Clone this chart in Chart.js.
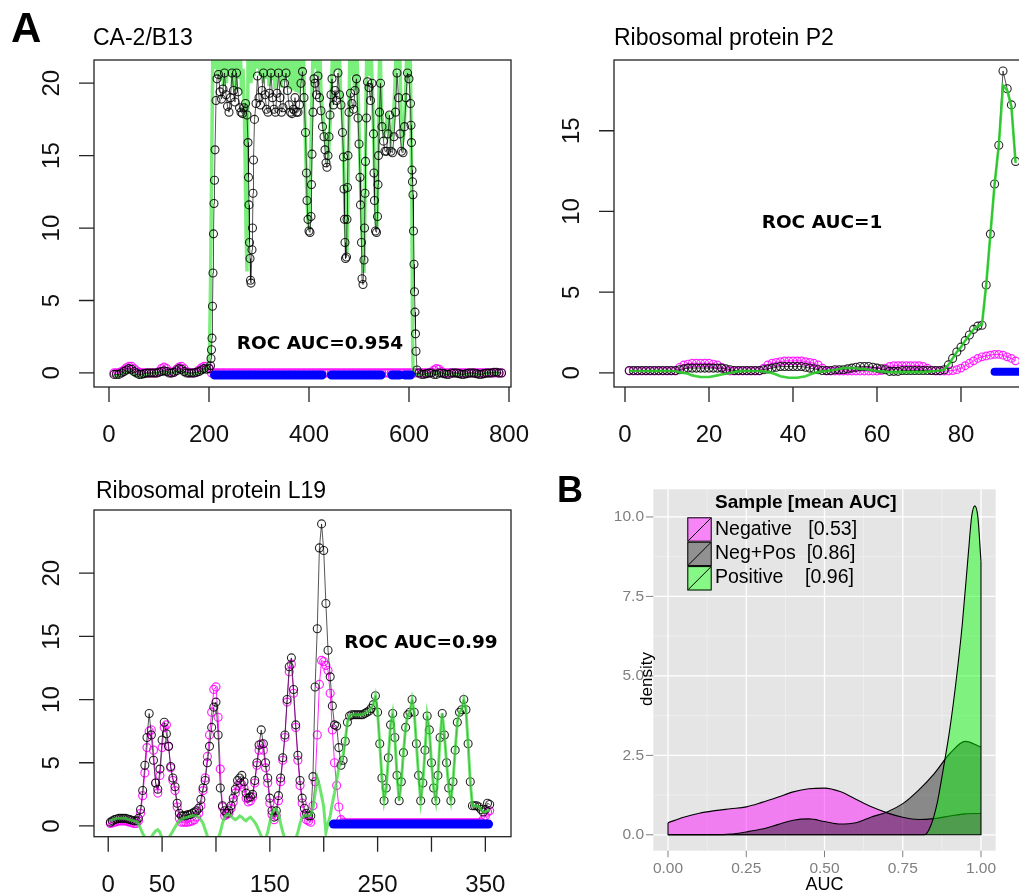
<!DOCTYPE html>
<html>
<head>
<meta charset="utf-8">
<title>ROC AUC profiles</title>
<script src="https://cdn.jsdelivr.net/npm/chart.js@4.4.1/dist/chart.umd.min.js"></script>
<style>
  html, body { margin: 0; padding: 0; background: #fff; }
  #fig { position: relative; width: 1019px; height: 893px; overflow: hidden; }
  #fig canvas { position: absolute; }
  .txt { position: absolute; white-space: pre; line-height: 1; color: #000; font-family: "Liberation Sans", Arial, sans-serif; }
  .letter { font-weight: bold; }
  .title { font-size: 23px; }
  .roc { font-family: "DejaVu Sans", sans-serif; font-weight: bold; font-size: 18.5px; width: 300px; text-align: center; }
</style>
</head>
<body>
<div id="fig">
  <canvas id="ca2" width="540" height="460" style="left:0px;top:0px"></canvas>
  <canvas id="p2" width="530" height="460" style="left:520px;top:0px"></canvas>
  <canvas id="l19" width="520" height="453" style="left:0px;top:440px"></canvas>
  <canvas id="auc" width="479" height="433" style="left:540px;top:460px"></canvas>

  <div class="txt letter" style="left:11px;top:7px;font-size:42px">A</div>
  <div class="txt letter" style="left:557px;top:472px;font-size:36px">B</div>
  <div class="txt title" style="left:93px;top:25.5px">CA-2/B13</div>
  <div class="txt title" style="left:614px;top:25.5px">Ribosomal protein P2</div>
  <div class="txt title" style="left:96px;top:478.5px">Ribosomal protein L19</div>
  <div class="txt roc" style="left:170px;top:334px">ROC AUC=0.954</div>
  <div class="txt roc" style="left:672px;top:213px">ROC AUC=1</div>
  <div class="txt roc" style="left:271px;top:633px">ROC AUC=0.99</div>
</div>

<script>
// ---------- CA-2/B13 ----------
const ca2Ticks = [0, 200, 400, 600, 800];
const ca2YTicks = [0, 5, 10, 15, 20];

// Neg+Pos profile (black circles), [position, value]
const ca2NegPos = [
  [10,-0.1],[15,-0.1],[20,-0.1],[25,0],[30,0.1],[35,0.2],[40,0.3],[45,0.25],[50,0.1],[55,0],
  [60,-0.1],[65,-0.1],[70,-0.05],[75,0],[80,0],[85,0],[90,0],[95,0],[100,0.05],[105,0.1],
  [110,0.15],[115,0.1],[120,0],[125,0],[130,0.05],[135,0.15],[140,0.3],[145,0.25],[150,0.1],[155,0],
  [160,0],[165,0],[170,0],[175,0.05],[180,0.1],[185,0.2],[190,0.3],[195,0.25],[200,0.3],
  [203,0.5],[204,1.0],[205,1.6],[206,2.4],[207,4.6],[208,6.9],[209,9.6],[210,11.7],[211,13.3],[212,15.4],[214,18.8],[216,20.3],
  [219,20.6],[222,19.4],[225,18.9],[228,19.6],[231,20.7],[234,19.2],[237,18.4],[240,18.0],[243,19.0],[246,20.7],
  [249,19.5],[252,18.7],[255,20.7],[258,19.4],[261,18.3],[264,18.0],[267,17.9],[270,18.3],[273,18.6],[276,17.8],
  [278,15.9],[279,13.5],[280,11.6],[281,9.0],[282,7.9],[283,6.4],[284,6.2],[286,8.5],[287,10.0],[288,12.4],[289,14.7],[291,17.5],[294,18.6],
  [297,20.5],[300,19.0],[303,18.5],[306,19.5],[309,20.7],[312,19.2],[315,18.2],[318,18.0],[321,19.3],[324,20.7],
  [327,19.0],[330,18.2],[333,18.0],[336,19.3],[339,20.7],[342,19.0],[345,18.0],[348,18.3],[351,20.0],[354,20.7],
  [357,19.5],[360,18.5],[363,18.0],[366,17.9],[369,18.2],[372,19.0],[375,18.0],[378,18.0],[381,18.5],[384,20.0],[387,20.8],[390,19.0],
  [393,16.6],[395,13.8],[396,11.9],[398,10.6],[400,9.8],[402,9.7],[404,10.8],[405,13.0],[406,15.1],[408,18.0],[410,20.3],[412,20.0],
  [415,19.2],[418,20.5],[421,19.0],[424,18.1],
  [427,17.0],[430,16.3],[432,15.4],[434,14.5],[436,14.2],[438,15.0],[440,16.3],[442,17.8],[444,19.2],[446,20.3],
  [449,18.5],[452,19.5],[455,18.8],[458,20.7],[461,19.2],[464,18.5],
  [467,16.6],[469,14.9],[470,12.7],[471,10.6],[472,9.0],[473,7.9],[475,8.0],[476,10.6],[477,12.8],[478,15.0],[480,18.0],[483,19.3],[486,18.6],[489,18.2],[492,19.5],[495,20.3],
  [498,17.6],[500,15.8],[502,13.5],[503,11.6],[505,9.0],[506,6.5],[508,6.1],[510,7.8],[511,10.0],[512,12.4],[513,14.6],[515,17.6],[517,20.1],[520,19.7],[523,18.8],[526,20.0],
  [529,16.5],[530,13.8],[531,11.9],[533,9.8],[535,9.7],[537,10.8],[538,13.0],[539,15.0],[541,18.0],[543,20.0],
  [546,17.0],[549,16.0],[552,15.3],[555,15.3],[558,16.5],[561,17.8],[564,15.3],[567,15.2],[570,16.3],[573,18.0],
  [576,20.7],[579,19.0],[582,16.5],[585,15.3],[588,15.2],[591,17.0],[594,19.0],[597,20.7],[600,20.3],
  [603,18.6],[604,17.1],[605,15.9],[606,14.0],[607,13.2],[608,12.3],[609,9.8],[610,7.5],[611,5.6],[612,4.2],[613,2.7],[614,1.5],[616,0.2],
  [620,0],[625,-0.1],[630,-0.1],[635,-0.05],[640,0],[645,0],[650,-0.1],[655,-0.1],[660,0],[665,0],
  [670,-0.05],[675,-0.1],[680,-0.1],[685,0],[690,0],[695,0],[700,-0.05],[705,-0.1],[710,-0.1],[715,-0.05],
  [720,0],[725,0],[730,0],[735,-0.05],[740,-0.1],[745,-0.1],[750,-0.05],[755,0],[760,0],[765,0],
  [770,0.05],[775,0.05],[780,0],[785,0]
];

// Positive profile (green line)
const ca2Pos = [
  [10,-0.2],[20,-0.2],[30,0],[40,0.1],[50,-0.1],[60,-0.3],[70,-0.15],[80,-0.1],[90,0],[100,0],
  [110,0.05],[120,0],[130,0.05],[140,0.1],[150,0],[160,-0.1],[170,-0.1],[180,0],[190,0.1],[198,0.4],
  [201,1.5],[203,6],[205,13],[207,20],[208,23],
  [211,21],[214,23],[217,20.5],[220,23],[223,20.2],[226,23],[229,19.8],[232,23],[235,20],[238,23],
  [241,20.5],[244,23],[247,19.8],[250,23],[253,19.5],[256,23],[259,20.3],[262,23],[265,19.5],[268,21],
  [271,17.5],[274,10],[276,7],[278,22],[281,23],
  [284,20],[287,23],[290,20.5],[293,23],[296,21],[299,23],[302,20.5],[305,23],[308,20],[311,23],
  [314,20.3],[317,23],[320,19.8],[323,23],[326,20.2],[329,23],[332,19.6],[335,23],[338,20.5],[341,23],
  [344,19.7],[347,23],[350,20.1],[353,23],[356,20.4],[359,23],[362,19.6],[365,22],[368,19.5],[371,22.5],
  [374,19.4],[377,22],[380,19.3],[383,22],[386,20.6],[389,22],[392,17],[395,13],[398,10.5],[400,9.9],
  [403,14],[406,19.5],[409,23],
  [412,21],[415,23],[418,20.5],[421,23],[424,19.5],[427,18],[431,16.5],[435,15.5],[439,15],[442,17],
  [445,20],[448,23],[451,20.8],[454,23],[457,21],[460,23],[463,19.5],[466,19],[469,15],[473,10],
  [476,8.3],[478,12],[480,18],[482,23],[485,20.5],[488,23],[491,19.5],[494,23],[497,21],[500,17],
  [503,13],[507,9],[510,6.9],[512,12],[514,19],[516,23],[519,20.5],[522,23],[525,21.5],[528,18],
  [531,14],[534,10.5],[536,10],[538,14],[540,20],[542,23],[545,18],[548,17],[551,16.5],[554,16.8],
  [557,18],[560,17],[563,16],[566,16.5],[569,17.5],[572,20],[575,23],[578,21],[581,23],[584,18],
  [587,16],[590,16.5],[593,19],[596,23],[599,20.5],[602,23],[604,18],[606,10],[607,3],[608,0.2],[612,-0.1],
  [620,-0.1],[640,-0.1],[660,0],[680,-0.1],[700,-0.1],[720,-0.1],[740,-0.1],[760,0],[780,0]
];

// Negative profile (magenta circles), positions 10, 15, ... 785
const ca2NegStart = 10, ca2NegStep = 5;
const ca2Neg = [
  0,0,0,0.1,0.2,0.35,0.45,0.45,0.3,0.15,
  0.05,0,0,0,0,0,0,0,0.1,0.3,
  0.4,0.3,0.1,0,0.05,0.25,0.4,0.45,0.3,0.1,
  0,0,0,0.05,0.2,0.35,0.45,0.45,0.35,
  0,0,0,0,0,0,0,0,0,0,
  0,0,0,0,0,0,0,0,0,0,
  0,0,0,0,0,0,0,0,0,0,
  0,0,0,0,0,0,0,0,0,0,
  0,0,0,0,0,0,0,0,0,0,
  0,0,0,0,0,0,0,0,0,0,
  0,0,0,0,0,0,0,0,0,0,
  0,0,0,0,0,0,0,0,0,0,
  0,0,0,
  0,0,0,0,0,0.05,0.2,0.3,0.25,0.1,
  0,0,0,0,0,0,0,0,0,0,
  0,0,0,0,0,0,0,0,0,0,
  0,0,0,0
];
const ca2Blue = [[211,426],[445,544],[566,581],[592,603]];

// ---------- Ribosomal protein P2 (positions 1..93) ----------
const p2Ticks = [0, 20, 40, 60, 80];
const p2YTicks = [0, 5, 10, 15];
const p2NegPos = [
  0.15,0.15,0.15,0.15,0.15,0.15,0.15,0.15,0.15,0.15,0.15,0.15,
  0.2,0.25,0.3,0.3,0.3,0.3,0.3,0.3,0.3,0.3,0.3,0.25,0.2,0.15,
  0.15,0.15,0.15,0.15,0.15,0.15,0.2,0.25,0.3,
  0.35,0.4,0.4,0.4,0.4,0.4,0.4,0.35,0.3,0.25,
  0.2,0.15,0.15,0.15,0.2,0.2,0.2,0.25,0.3,0.35,
  0.4,0.4,0.4,0.35,0.3,0.25,0.2,
  0.1,0.1,0.1,0.15,0.15,0.15,0.15,0.15,0.15,0.15,0.15,0.15,0.15,
  0.2,0.5,0.9,1.3,1.6,2.0,2.35,2.7,2.9,2.95,5.45,8.6,11.7,14.1,18.7,17.6,16.6,13.1
];
const p2Pos = [
  0.12,0.12,0.12,0.12,0.12,0.12,0.12,0.12,0.12,0.12,0.12,0.12,
  0.05,0,-0.05,-0.15,-0.2,-0.25,-0.25,-0.25,-0.2,-0.15,-0.1,-0.05,0,0.05,
  0.1,0.12,0.12,0.12,0.12,0.12,0.1,0.05,0,
  -0.1,-0.2,-0.25,-0.3,-0.3,-0.3,-0.25,-0.2,-0.1,0,
  0.05,0.1,0.12,0.15,0.2,0.25,0.3,0.3,0.3,0.3,
  0.25,0.25,0.2,0.15,0.12,0.1,0.08,
  0.05,0.05,0.05,0.05,0.05,0.05,0.05,0.05,0.05,0.08,0.1,0.12,0.15,
  0.2,0.5,0.9,1.3,1.6,2.0,2.35,2.7,2.9,3.0,5.45,8.6,11.7,14.1,17.8,17.5,16.5,13.0
];
const p2Neg = [
  0.12,0.12,0.12,0.12,0.12,0.12,0.12,0.12,0.12,0.12,0.12,0.12,
  0.35,0.5,0.55,0.6,0.6,0.6,0.6,0.6,0.55,0.5,0.35,0.15,0.12,0.12,
  0.12,0.12,0.12,0.12,0.12,0.12,0.3,0.5,0.6,
  0.65,0.7,0.75,0.75,0.75,0.75,0.75,0.7,0.65,0.6,
  0.5,0.3,0.12,0.12,0.12,0.12,0.12,0.12,0.12,0.12,
  0.12,0.12,0.12,0.12,0.12,0.15,0.3,
  0.4,0.45,0.45,0.45,0.45,0.45,0.45,0.45,0.4,0.3,0.15,0.12,0.12,
  0.12,0.12,0.15,0.2,0.3,0.45,0.6,0.75,0.9,1.0,1.05,1.1,1.15,1.15,1.1,1.0,0.9,0.75
];
const p2Blue = [[88, 99]];

// ---------- Ribosomal protein L19 (positions 2, 4, ... 354) ----------
const l19Ticks = [0, 50, 100, 150, 200, 250, 300, 350];
const l19Labels = [0, 50, 150, 250, 350];
const l19YTicks = [0, 5, 10, 15, 20];
const l19Start = 2, l19Step = 2;
const l19NegPos = [
  0.3,0.4,0.5,0.55,0.6,0.6,0.6,0.6,0.55,0.5,
  0.45,0.4,0.4,0.6,1.3,2.8,4.8,7.0,8.9,7.2,
  5.2,3.4,2.9,4.5,6.8,8.2,7.3,6.3,4.7,3.8,
  3.1,1.8,1.0,0.8,0.8,0.8,0.9,0.9,1.0,1.1,
  1.2,1.4,2.1,3.0,3.6,5.0,6.3,7.8,9.4,9.8,
  7.2,3.0,1.6,1.2,1.0,1.2,1.6,2.2,2.9,3.6,
  3.8,4.0,3.5,2.6,2.2,2.3,2.5,3.6,5.0,6.4,
  7.6,6.5,5.0,3.8,2.2,1.2,0.7,1.2,2.4,3.8,
  5.4,7.2,10.0,12.6,13.3,10.8,8.0,5.6,3.6,2.2,
  1.4,1.0,0.8,0.8,3.9,11.0,15.6,22.0,23.9,21.8,
  17.6,13.9,11.8,9.5,8.0,7.9,6.2,4.8,5.2,6.7,
  8.2,8.7,8.8,8.8,8.8,8.8,8.8,8.8,8.9,9.0,
  9.1,9.3,9.6,10.3,9.0,6.5,3.8,2.0,3.0,5.4,
  8.0,8.9,7.0,4.0,2.0,3.5,5.8,7.8,8.8,9.0,
  10.0,9.0,6.5,4.0,2.0,3.4,6.0,8.7,7.6,5.0,
  3.0,2.0,4.0,7.0,8.9,7.2,5.0,3.0,2.0,3.5,
  6.0,8.2,9.0,9.2,10.0,9.2,6.5,3.5,1.6,1.6,
  1.6,1.5,1.3,1.1,1.3,1.8,1.7
];
const l19Neg = [
  0.2,0.25,0.3,0.35,0.4,0.4,0.4,0.4,0.35,0.3,
  0.25,0.2,0.2,0.4,1.0,2.4,4.2,6.2,7.5,7.6,
  6.0,3.4,2.6,4.0,6.2,7.8,8.0,6.3,4.6,3.6,
  2.8,1.5,0.6,0.3,0.3,0.3,0.3,0.35,0.4,0.5,
  0.7,1.0,1.6,2.8,3.8,5.5,7.2,9.0,10.8,11.0,
  8.6,4.5,1.5,0.8,0.9,1.0,1.4,1.9,2.6,3.2,
  3.4,3.3,3.0,2.2,1.9,2.0,2.3,3.4,4.8,6.0,
  6.5,6.0,4.6,3.4,1.8,0.9,0.5,0.8,2.0,3.5,
  5.2,7.0,9.8,12.2,12.8,10.5,7.8,5.2,3.2,1.8,
  0.9,0.5,0.4,0.3,1.6,3.5,7.2,11.2,13.1,13.0,
  12.7,12.3,10.5,7.6,5.0,3.2,1.5,0.5,0.3,0.25,
  0.25,0.25,0.25,0.25,0.25,0.25,0.25,0.25,0.25,0.25,
  0.25,0.25,0.25,0.25,0.25,0.25,0.25,0.25,0.25,0.25,
  0.25,0.25,0.25,0.25,0.25,0.25,0.25,0.25,0.25,0.25,
  0.25,0.25,0.25,0.25,0.25,0.25,0.25,0.25,0.25,0.25,
  0.25,0.25,0.25,0.25,0.25,0.25,0.25,0.25,0.25,0.25,
  0.25,0.25,0.25,0.25,0.25,0.25,0.25,0.25,0.25,0.25,
  0.25,0.25,0.3,0.5,0.8,1.1,1.2
];
const l19Pos = [
  0.4,0.5,0.55,0.6,0.6,0.6,0.6,0.6,0.55,0.5,
  0.45,0.4,0.35,0.2,-0.2,-0.6,-0.9,-1.1,-1.1,-0.9,
  -0.6,-0.4,-0.3,-0.5,-1.0,-1.2,-1.2,-1.0,-0.7,-0.4,
  -0.1,0.2,0.4,0.5,0.6,0.65,0.7,0.75,0.8,0.8,
  0.8,0.7,0.5,0.2,-0.3,-0.8,-1.2,-1.2,-1.2,-1.2,
  -1.0,-0.5,0.2,0.7,0.9,0.9,0.8,0.6,0.5,0.6,
  0.8,0.7,0.5,0.4,0.6,0.7,0.5,0.3,0.0,-0.4,
  -0.8,-1.1,-1.0,-0.5,0.3,1.0,1.3,1.3,1.0,0.2,
  -0.5,-1.0,-1.2,-1.2,-1.2,-1.2,-1.0,-0.5,0.2,0.7,
  0.8,0.8,0.8,0.9,1.4,2.6,3.8,3.2,2.4,1.5,
  -0.5,0.2,0.8,1.8,2.6,3.6,4.6,5.2,5.6,6.8,
  8.2,8.7,8.8,8.8,8.8,8.8,8.8,8.8,8.9,9.0,
  9.1,9.3,9.6,10.3,9.0,6.5,3.8,2.0,3.0,5.4,
  8.0,8.9,7.0,4.0,2.0,3.5,5.8,7.8,8.8,9.0,
  10.0,9.0,6.5,4.0,2.0,3.4,6.0,8.7,7.6,5.0,
  3.0,2.0,4.0,7.0,8.9,7.2,5.0,3.0,2.0,3.5,
  6.0,8.2,9.0,9.2,10.0,9.2,6.5,3.5,1.6,1.6,
  1.6,1.5,1.3,1.1,1.1,1.2,1.3
];
const l19Blue = [[209, 353]];

// ---------- B: AUC density ----------
const aucGrid = [0,0.05,0.1,0.15,0.2,0.25,0.3,0.35,0.4,0.45,0.5,0.55,0.6,0.65,0.7,0.75,0.8,0.85,0.9,0.95,1.0];
const negativeDens = [0.38,0.55,0.68,0.76,0.82,0.88,1.02,1.18,1.35,1.45,1.47,1.36,1.12,0.88,0.69,0.55,0.48,0.51,0.59,0.66,0.67];
const negPosDens = [0,0,0,0,0.02,0.09,0.18,0.32,0.46,0.5,0.42,0.34,0.38,0.56,0.72,0.98,1.4,1.92,2.55,2.94,2.76];
const positiveGrid = [0,0.8,0.82,0.84,0.86,0.88,0.9,0.92,0.94,0.96,0.97,0.98,0.99,1.0];
const positiveDens = [0,0,0,0.3,1.0,2.1,3.3,4.8,6.6,8.9,10.0,10.35,10.0,8.6];
const aucMajor = [0, 0.25, 0.5, 0.75, 1];
const aucMinor = [0.125, 0.375, 0.625, 0.875];
const aucLabels = ['0.00', '0.25', '0.50', '0.75', '1.00'];
const densMajor = [0, 2.5, 5, 7.5, 10];
const densMinor = [1.25, 3.75, 6.25, 8.75];
const densLabels = ['0.0', '2.5', '5.0', '7.5', '10.0'];
const sampleNames = ['Negative', 'Neg+Pos', 'Positive'];
const sampleMeans = ['[0.53]', '[0.86]', '[0.96]'];
const sampleFills = ['rgba(255,0,255,0.45)', 'rgba(0,0,0,0.4)', 'rgba(0,255,0,0.45)'];

// ---------- helpers ----------
const seq = (start, step, vals) => vals.map((v, i) => ({x: start + step * i, y: v}));
const pairs = pts => pts.map(p => ({x: p[0], y: p[1]}));
const ranges = (rs, yv) => {
  const out = [];
  rs.forEach(r => { out.push({x: r[0], y: yv}, {x: r[1], y: yv}, {x: r[1], y: null}); });
  return out;
};

// R base-graphics style box and axes
const rAxes = {
  id: 'rAxes',
  afterDraw(chart, args, o) {
    const {ctx, chartArea: a, scales: {x, y}} = chart;
    ctx.save();
    ctx.strokeStyle = '#222';
    ctx.lineWidth = 1.3;
    ctx.strokeRect(a.left, a.top, a.right - a.left, a.bottom - a.top);
    ctx.beginPath();
    o.xTicks.forEach(v => {
      const px = x.getPixelForValue(v);
      ctx.moveTo(px, a.bottom);
      ctx.lineTo(px, a.bottom + 15);
    });
    o.yTicks.forEach(v => {
      const py = y.getPixelForValue(v);
      ctx.moveTo(a.left, py);
      ctx.lineTo(a.left - 15, py);
    });
    ctx.stroke();
    ctx.fillStyle = '#111';
    ctx.font = '24px "Liberation Sans", Arial, sans-serif';
    ctx.textAlign = 'center';
    ctx.textBaseline = 'alphabetic';
    o.xLabels.forEach(v => ctx.fillText(String(v), x.getPixelForValue(v), a.bottom + 55));
    o.yTicks.forEach(v => {
      ctx.save();
      ctx.translate(a.left - 35, y.getPixelForValue(v));
      ctx.rotate(-Math.PI / 2);
      ctx.fillText(String(v), 0, 0);
      ctx.restore();
    });
    ctx.restore();
  }
};

function profileSets(neg, negPos, pos, blue, st) {
  return [
    {data: blue, borderColor: '#0000ff', borderWidth: st.blueW, borderCapStyle: 'round', pointRadius: 0, order: 0},
    {data: pos, borderColor: st.green, borderWidth: st.greenW, pointRadius: 0, order: st.blackTop ? 2 : 1},
    {data: negPos, borderColor: 'rgba(20,20,20,0.8)', borderWidth: 0.9, pointRadius: 4, pointBorderWidth: 1.1,
     pointBorderColor: 'rgba(0,0,0,0.85)', pointBackgroundColor: 'rgba(0,0,0,0)', order: st.blackTop ? 1 : 2},
    {data: neg, borderColor: 'rgba(255,0,255,0.85)', borderWidth: 1, pointRadius: st.negR, pointBorderWidth: 1.2,
     pointBorderColor: 'rgba(255,0,255,0.85)', pointBackgroundColor: 'rgba(0,0,0,0)', order: 3}
  ];
}

function profileOpts(xr, yr, pad, axes) {
  return {
    responsive: false,
    animation: false,
    events: [],
    layout: {padding: pad},
    plugins: {legend: {display: false}, tooltip: {enabled: false}, rAxes: axes},
    scales: {
      x: {type: 'linear', display: false, min: xr[0], max: xr[1]},
      y: {type: 'linear', display: false, min: yr[0], max: yr[1]}
    }
  };
}

new Chart(document.getElementById('ca2'), {
  type: 'line',
  data: {datasets: profileSets(seq(ca2NegStart, ca2NegStep, ca2Neg), pairs(ca2NegPos), pairs(ca2Pos),
    ranges(ca2Blue, -0.14), {blueW: 9, green: 'rgba(90,235,90,0.8)', greenW: 3.5, negR: 4, blackTop: true})},
  options: profileOpts([-30, 804], [-0.97, 21.6], {left: 94, top: 60, right: 29, bottom: 73},
    {xTicks: ca2Ticks, xLabels: ca2Ticks, yTicks: ca2YTicks}),
  plugins: [rAxes]
});

new Chart(document.getElementById('p2'), {
  type: 'line',
  data: {datasets: profileSets(seq(1, 1, p2Neg), seq(1, 1, p2NegPos), seq(1, 1, p2Pos),
    ranges(p2Blue, 0.08), {blueW: 8, green: 'rgba(40,205,40,0.9)', greenW: 2.6, negR: 3.8})},
  options: profileOpts([-2.62, 97.62], [-0.87, 19.38], {left: 94, top: 60, right: 15, bottom: 73},
    {xTicks: p2Ticks, xLabels: p2Ticks, yTicks: p2YTicks}),
  plugins: [rAxes]
});

new Chart(document.getElementById('l19'), {
  type: 'line',
  data: {datasets: profileSets(seq(l19Start, l19Step, l19Neg), seq(l19Start, l19Step, l19NegPos),
    seq(l19Start, l19Step, l19Pos), ranges(l19Blue, 0.15),
    {blueW: 9, green: 'rgba(60,220,60,0.75)', greenW: 3, negR: 4})},
  options: profileOpts([-13.2, 373.8], [-0.85, 25.0], {left: 94, top: 70, right: 9, bottom: 56.3},
    {xTicks: l19Ticks, xLabels: l19Labels, yTicks: l19YTicks}),
  plugins: [rAxes]
});

// ggplot2 style panel for B
const ggPanel = {
  id: 'gg',
  beforeDatasetsDraw(chart) {
    const {ctx, chartArea: a, scales: {x, y}} = chart;
    ctx.save();
    ctx.fillStyle = '#e5e5e5';
    ctx.fillRect(a.left, a.top, a.right - a.left, a.bottom - a.top);
    const vlines = vals => vals.forEach(v => { const p = x.getPixelForValue(v); ctx.moveTo(p, a.top); ctx.lineTo(p, a.bottom); });
    const hlines = vals => vals.forEach(v => { const p = y.getPixelForValue(v); ctx.moveTo(a.left, p); ctx.lineTo(a.right, p); });
    ctx.beginPath();
    ctx.strokeStyle = '#f2f2f2';
    ctx.lineWidth = 0.7;
    vlines(aucMinor); hlines(densMinor);
    ctx.stroke();
    ctx.beginPath();
    ctx.strokeStyle = '#ffffff';
    ctx.lineWidth = 1.3;
    vlines(aucMajor); hlines(densMajor);
    ctx.stroke();
    ctx.restore();
  },
  afterDatasetsDraw(chart) {
    const {ctx, scales: {x, y}} = chart;
    ctx.save();
    ctx.strokeStyle = '#000';
    ctx.lineWidth = 1.1;
    ctx.beginPath();
    chart.data.datasets.forEach(ds => {
      const d = ds.data, f = d[0], l = d[d.length - 1];
      const y0 = y.getPixelForValue(0);
      ctx.moveTo(x.getPixelForValue(f.x), y.getPixelForValue(f.y));
      ctx.lineTo(x.getPixelForValue(f.x), y0);
      ctx.lineTo(x.getPixelForValue(l.x), y0);
      ctx.lineTo(x.getPixelForValue(l.x), y.getPixelForValue(l.y));
    });
    ctx.stroke();
    ctx.restore();
  },
  afterDraw(chart) {
    const {ctx, chartArea: a, scales: {x, y}} = chart;
    ctx.save();
    ctx.strokeStyle = '#7f7f7f';
    ctx.fillStyle = '#7f7f7f';
    ctx.lineWidth = 1;
    ctx.beginPath();
    aucMajor.forEach(v => { const p = x.getPixelForValue(v); ctx.moveTo(p, a.bottom); ctx.lineTo(p, a.bottom + 6.5); });
    densMajor.forEach(v => { const p = y.getPixelForValue(v); ctx.moveTo(a.left, p); ctx.lineTo(a.left - 7.3, p); });
    ctx.stroke();
    ctx.font = '15.5px "Liberation Sans", Arial, sans-serif';
    ctx.textAlign = 'center';
    ctx.textBaseline = 'alphabetic';
    aucMajor.forEach((v, i) => ctx.fillText(aucLabels[i], x.getPixelForValue(v), a.bottom + 22.3));
    ctx.textAlign = 'right';
    ctx.textBaseline = 'middle';
    densMajor.forEach((v, i) => ctx.fillText(densLabels[i], a.left - 9.3, y.getPixelForValue(v)));

    ctx.fillStyle = '#000';
    ctx.font = '18px "Liberation Sans", Arial, sans-serif';
    ctx.textAlign = 'center';
    ctx.textBaseline = 'alphabetic';
    ctx.fillText('AUC', (a.left + a.right) / 2, a.bottom + 39.3);
    ctx.save();
    ctx.translate(112, 219);
    ctx.rotate(-Math.PI / 2);
    ctx.font = '17px "Liberation Sans", Arial, sans-serif';
    ctx.fillText('density', 0, 0);
    ctx.restore();

    // legend
    ctx.textAlign = 'left';
    ctx.font = 'bold 19px "Liberation Sans", Arial, sans-serif';
    ctx.fillText('Sample [mean AUC]', 175, 48.3);
    ctx.font = '19.5px "Liberation Sans", Arial, sans-serif';
    sampleNames.forEach((name, i) => {
      const kx = 147.3, ky = 57.3 + i * 24.4, k = 24.4;
      ctx.fillStyle = '#f2f2f2';
      ctx.fillRect(kx, ky, k, k);
      ctx.fillStyle = sampleFills[i];
      ctx.fillRect(kx, ky, k, k);
      ctx.strokeStyle = '#000';
      ctx.lineWidth = 1;
      ctx.strokeRect(kx + 0.5, ky + 0.5, k - 1, k - 1);
      ctx.beginPath();
      ctx.moveTo(kx + 1, ky + k - 1);
      ctx.lineTo(kx + k - 1, ky + 1);
      ctx.stroke();
      ctx.fillStyle = '#000';
      ctx.fillText(name, 175, 75 + i * 23.9);
      ctx.fillText(sampleMeans[i], 268.3 - i * 1.6, 75 + i * 23.9);
    });
    ctx.restore();
  }
};

const dens = (xs, ys, fill, order) => ({
  data: xs.map((v, i) => ({x: v, y: ys[i]})),
  fill: 'origin',
  backgroundColor: fill,
  borderColor: '#000',
  borderWidth: 1.1,
  pointRadius: 0,
  cubicInterpolationMode: 'monotone',
  order: order
});

new Chart(document.getElementById('auc'), {
  type: 'line',
  data: {datasets: [
    dens(aucGrid, negativeDens, sampleFills[0], 2),
    dens(aucGrid, negPosDens, sampleFills[1], 1),
    dens(positiveGrid, positiveDens, sampleFills[2], 0)
  ]},
  options: {
    responsive: false,
    animation: false,
    events: [],
    layout: {padding: {left: 113.3, top: 29.3, right: 23.3, bottom: 42.3}},
    plugins: {legend: {display: false}, tooltip: {enabled: false}},
    scales: {
      x: {type: 'linear', display: false, min: -0.047, max: 1.047},
      y: {type: 'linear', display: false, min: -0.5, max: 10.87}
    }
  },
  plugins: [ggPanel]
});
</script>
</body>
</html>
